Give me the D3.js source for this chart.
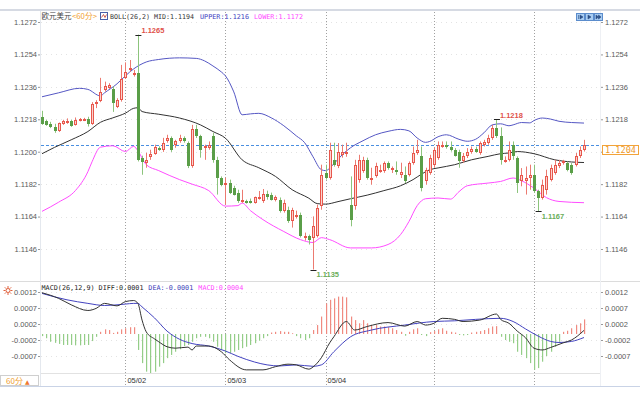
<!DOCTYPE html>
<html><head><meta charset="utf-8">
<script src="https://cdn.jsdelivr.net/npm/d3@7"></script>
<style>body{margin:0;background:#fff}svg{display:block}</style>
</head><body><svg id="c" width="640" height="400"></svg>
<script>
// ---------------- DATA ----------------
const opens = [1.12195,1.12168,1.12155,1.12138,1.12116,1.12155,1.12160,1.12168,1.12149,1.12172,1.12172,1.12183,1.12155,1.12267,1.12282,1.12343,1.12354,1.12349,1.12249,1.12288,1.12410,1.12454,1.12426,1.12437,1.11967,1.11939,1.11972,1.11989,1.12022,1.12007,1.12057,1.12077,1.12039,1.12057,1.12077,1.12050,1.11918,1.12127,1.12085,1.12022,1.12022,1.12085,1.11955,1.11856,1.11817,1.11828,1.11800,1.11773,1.11724,1.11724,1.11729,1.11718,1.11740,1.11724,1.11767,1.11762,1.11730,1.11734,1.11669,1.11678,1.11614,1.11640,1.11651,1.11522,1.11531,1.11522,1.11531,1.11697,1.11882,1.11854,1.11955,1.11918,1.11983,1.11989,1.11706,1.11697,1.11845,1.11891,1.11955,1.11845,1.11863,1.11891,1.11891,1.11939,1.11900,1.11900,1.11872,1.11872,1.11872,1.11939,1.11994,1.11974,1.11835,1.11882,1.11928,1.11965,1.12029,1.12039,1.12026,1.12007,1.11996,1.11946,1.11974,1.11996,1.12015,1.11993,1.12039,1.12048,1.12076,1.12131,1.12085,1.11946,1.11955,1.12039,1.11965,1.11835,1.11835,1.11854,1.11872,1.11780,1.11743,1.11789,1.11845,1.11882,1.11918,1.11937,1.11937,1.11928,1.11928,1.11974,1.12011];
const highs = [1.12227,1.12177,1.12166,1.12155,1.12162,1.12177,1.12185,1.12177,1.12190,1.12187,1.12188,1.12194,1.12275,1.12286,1.12410,1.12389,1.12380,1.12362,1.12297,1.12482,1.12496,1.12509,1.12454,1.12650,1.11978,1.11994,1.12011,1.12039,1.12030,1.12077,1.12094,1.12085,1.12066,1.12094,1.12085,1.12057,1.12149,1.12149,1.12094,1.12039,1.12057,1.12105,1.11972,1.11863,1.11856,1.11845,1.11811,1.11789,1.11789,1.11734,1.11740,1.11751,1.11782,1.11793,1.11784,1.11773,1.11757,1.11746,1.11734,1.11695,1.11689,1.11673,1.11662,1.11551,1.11540,1.11641,1.11706,1.11928,1.11928,1.12050,1.12050,1.12048,1.12039,1.12050,1.11863,1.11955,1.11983,1.11972,1.11967,1.11911,1.11939,1.11928,1.11946,1.11946,1.11918,1.11946,1.11939,1.11918,1.11946,1.12029,1.12066,1.12029,1.11911,1.11983,1.12022,1.12057,1.12057,1.12057,1.12057,1.12020,1.12011,1.11993,1.12020,1.12029,1.12028,1.12057,1.12066,1.12094,1.12149,1.12180,1.12135,1.11974,1.12057,1.12057,1.11974,1.11909,1.11918,1.11928,1.11928,1.11789,1.11845,1.11900,1.11928,1.11955,1.11955,1.11955,1.11946,1.11937,1.11993,1.12029,1.12066];
const lows = [1.12149,1.12144,1.12131,1.12105,1.12110,1.12149,1.12155,1.12138,1.12145,1.12168,1.12170,1.12140,1.12149,1.12242,1.12275,1.12334,1.12349,1.12221,1.12242,1.12278,1.12404,1.12444,1.12417,1.11946,1.11872,1.11911,1.11955,1.11983,1.12005,1.11999,1.12050,1.11999,1.12022,1.12050,1.12050,1.11909,1.11911,1.12076,1.11967,1.11955,1.12011,1.11939,1.11762,1.11808,1.11706,1.11765,1.11757,1.11716,1.11716,1.11712,1.11712,1.11712,1.11734,1.11716,1.11734,1.11729,1.11724,1.11662,1.11662,1.11605,1.11579,1.11629,1.11524,1.11507,1.11485,1.11346,1.11524,1.11678,1.11845,1.11845,1.11917,1.11909,1.11967,1.11972,1.11586,1.11678,1.11828,1.11883,1.11845,1.11817,1.11856,1.11883,1.11883,1.11900,1.11882,1.11872,1.11854,1.11826,1.11863,1.11928,1.11983,1.11780,1.11817,1.11872,1.11911,1.11955,1.12022,1.12017,1.12001,1.11973,1.11911,1.11939,1.11965,1.11989,1.11994,1.11983,1.12029,1.12039,1.12066,1.12076,1.11928,1.11939,1.11946,1.11955,1.11771,1.11808,1.11762,1.11789,1.11771,1.11670,1.11734,1.11762,1.11835,1.11872,1.11909,1.11928,1.11891,1.11872,1.11918,1.11965,1.12001];
const closes = [1.12155,1.12149,1.12138,1.12116,1.12157,1.12168,1.12172,1.12144,1.12177,1.12181,1.12183,1.12155,1.12266,1.12278,1.12334,1.12362,1.12371,1.12272,1.12288,1.12404,1.12444,1.12467,1.12437,1.11955,1.11944,1.11953,1.11989,1.12024,1.12011,1.12046,1.12077,1.12007,1.12057,1.12077,1.12057,1.11918,1.12127,1.12085,1.12011,1.12033,1.12039,1.11955,1.11856,1.11817,1.11828,1.11771,1.11762,1.11724,1.11730,1.11718,1.11718,1.11746,1.11751,1.11767,1.11746,1.11734,1.11746,1.11669,1.11718,1.11614,1.11678,1.11651,1.11531,1.11531,1.11512,1.11586,1.11688,1.11872,1.11854,1.12011,1.11928,1.12001,1.12001,1.12001,1.11623,1.11928,1.11955,1.11955,1.11854,1.11856,1.11918,1.11900,1.11939,1.11911,1.11911,1.11885,1.11885,1.11835,1.11939,1.11994,1.12011,1.11799,1.11900,1.11967,1.12011,1.12039,1.12039,1.12026,1.12011,1.11976,1.11946,1.11974,1.12001,1.12015,1.12001,1.12048,1.12053,1.12076,1.12131,1.12085,1.11955,1.11955,1.12011,1.11974,1.11826,1.11872,1.11854,1.11872,1.11780,1.11743,1.11817,1.11863,1.11909,1.11928,1.11937,1.11946,1.11900,1.11882,1.11974,1.12011,1.12040];

const upperIdx = [0,4,9,11,14,15,18,20,22,25,28,33,37,39,41,43,44,46,48,50,52,55,58,61,63,65,67,68,70,72,74,77,80,83,86,88,90,92,93,95,97,100,102,104,106,108,110,112,113,115,117,118,120,122,124,127,130];
const upperVals = [1.12305,1.12327,1.12352,1.12346,1.12310,1.12327,1.12377,1.12421,1.12460,1.12498,1.12512,1.12521,1.12518,1.12504,1.12476,1.12443,1.12421,1.12332,1.12205,1.12210,1.12213,1.12188,1.12144,1.12088,1.12050,1.11972,1.11900,1.11895,1.11933,1.11983,1.12022,1.12061,1.12094,1.12113,1.12124,1.12116,1.12076,1.12052,1.12057,1.12083,1.12094,1.12069,1.12058,1.12069,1.12105,1.12149,1.12155,1.12144,1.12149,1.12162,1.12160,1.12173,1.12187,1.12181,1.12169,1.12162,1.12159];
const midIdx = [0,3,7,11,14,17,20,22,23,24,28,33,38,41,44,48,52,56,60,64,66,68,71,74,78,82,86,89,91,93,95,99,103,107,110,112,114,118,123,127,130];
const midVals = [1.11989,1.12024,1.12066,1.12112,1.12163,1.12188,1.12214,1.12241,1.12244,1.12223,1.12208,1.12187,1.12149,1.12112,1.12075,1.11955,1.11911,1.11863,1.11789,1.11742,1.11712,1.11709,1.11723,1.11739,1.11759,1.11784,1.11811,1.11845,1.11875,1.11900,1.11910,1.11928,1.11955,1.11974,1.11989,1.11993,1.12001,1.11989,1.11955,1.11943,1.11940];
const lowerIdx = [0,4,8,11,12,14,17,20,22,23,25,28,33,36,40,44,47,48,50,53,58,62,65,67,69,74,79,83,86,88,90,92,95,98,100,102,107,110,113,115,118,121,124,130];
const lowerVals = [1.11669,1.11720,1.11784,1.11889,1.11944,1.12025,1.12033,1.12001,1.12030,1.12005,1.11928,1.11895,1.11845,1.11820,1.11784,1.11698,1.11701,1.11715,1.11673,1.11623,1.11557,1.11512,1.11496,1.11523,1.11512,1.11466,1.11466,1.11485,1.11540,1.11612,1.11701,1.11739,1.11743,1.11737,1.11778,1.11811,1.11826,1.11835,1.11854,1.11839,1.11798,1.11745,1.11724,1.11717];

const macdHist = [-0.00006,-0.00012,-0.00022,-0.00025,-0.00028,-0.00031,-0.00031,-0.00031,-0.00032,-0.00032,-0.00031,-0.00031,-0.00020,-0.00008,0.00006,0.00013,0.00011,0.00003,0.00006,0.00013,0.00016,0.00019,0.00019,-0.00045,-0.00082,-0.00106,-0.00111,-0.00106,-0.00092,-0.00082,-0.00068,-0.00059,-0.00050,-0.00043,-0.00034,-0.00031,-0.00022,-0.00012,-0.00008,-0.00008,-0.00012,-0.00022,-0.00036,-0.00045,-0.00054,-0.00054,-0.00050,-0.00045,-0.00040,-0.00036,-0.00031,-0.00026,-0.00019,-0.00012,-0.00006,0.00004,0.00006,0.00008,0.00006,0.00006,0.00002,-0.00006,-0.00012,-0.00017,-0.00012,0.00011,0.00025,0.00049,0.00086,0.00096,0.00100,0.00105,0.00105,0.00103,0.00049,0.00039,0.00030,0.00039,0.00030,0.00025,0.00025,0.00021,0.00021,0.00019,0.00016,0.00011,0.00006,-0.00005,0.00006,0.00013,0.00016,-0.00003,-0.00006,0.00005,0.00008,0.00013,0.00016,0.00009,0.00006,0.00004,-0.00003,-0.00004,-0.00003,0.00004,0.00006,0.00008,0.00011,0.00016,0.00021,0.00022,-0.00008,-0.00017,-0.00022,-0.00026,-0.00050,-0.00059,-0.00068,-0.00082,-0.00101,-0.00096,-0.00078,-0.00062,-0.00050,-0.00036,-0.00022,0.00006,0.00009,0.00016,0.00025,0.00030,0.00041];
const diffIdx = [0,4,7,11,13,15,18,20,22,23,24,25,27,28,30,32,35,36,37,40,43,45,49,53,56,59,61,64,65,66,67,69,70,73,75,78,83,87,90,92,94,96,99,101,105,109,110,112,114,116,118,120,122,125,127,130];
const diffVals = [0.00116,0.00100,0.00082,0.00066,0.00072,0.00086,0.00079,0.00091,0.00094,0.00086,0.00039,0.00006,-0.00014,-0.00022,-0.00036,-0.00040,-0.00037,-0.00045,-0.00034,-0.00034,-0.00050,-0.00073,-0.00101,-0.00101,-0.00092,-0.00085,-0.00087,-0.00099,-0.00093,-0.00082,-0.00067,-0.00025,-0.00008,0.00035,0.00011,0.00021,0.00032,0.00022,0.00035,0.00025,0.00030,0.00044,0.00041,0.00035,0.00039,0.00056,0.00041,0.00030,0.00008,-0.00011,-0.00040,-0.00045,-0.00038,-0.00025,-0.00017,0.00010];
const deaIdx = [0,6,11,15,20,22,23,24,27,30,33,36,40,44,47,51,54,57,61,65,67,70,74,79,87,94,99,104,110,113,116,119,122,124,127,130];
const deaVals = [0.00114,0.00096,0.00086,0.00080,0.00084,0.00086,0.00086,0.00076,0.00045,0.00008,-0.00015,-0.00027,-0.00034,-0.00048,-0.00063,-0.00079,-0.00087,-0.00090,-0.00087,-0.00091,-0.00087,-0.00050,-0.00008,0.00011,0.00025,0.00035,0.00037,0.00041,0.00044,0.00035,0.00014,-0.00006,-0.00021,-0.00024,-0.00021,-0.00010];

const priceTicks = [1.1272,1.1254,1.1236,1.1218,1.1200,1.1182,1.1164,1.1146];
const macdTickVals = [0.00118,0.00073,0.00028,-0.00017,-0.00062];
const macdTickLabels = ["0.0012","0.0007","0.0002","-0.0002","-0.0007"];
const dayIdx = [20,44,68,94,118];
const dayLabels = ["05/02","05/03","05/04","",""];
const lastPrice = 1.1204;
const markIdx = [23,109,119,65];
const markText = ["1.1265","1.1218","1.1167","1.1135"];
const markIsHigh = [true,true,false,false];

// ---------------- SCALES ----------------
const svg = d3.select("#c");
const x = d3.scaleLinear().domain([0,130]).range([42,584]);
const y = d3.scaleLinear().domain([1.1146,1.1272]).range([249,22]);
const ym = d3.scaleLinear().domain([-0.00062,0.00118]).range([356,292]);
const RED="#e8574c", PINK="#fbd3ce", GREEN="#5a9e48", LGREEN="#8cc47c";

// frame
svg.append("rect").attr("x",0).attr("y",9).attr("width",640).attr("height",2).attr("fill","#d6dae3");
svg.append("line").attr("x1",0).attr("x2",640).attr("y1",281.5).attr("y2",281.5).attr("stroke","#dcdcdc");
svg.append("line").attr("x1",40).attr("x2",600).attr("y1",373.5).attr("y2",373.5).attr("stroke","#e2e2e2");
svg.append("line").attr("x1",0).attr("x2",640).attr("y1",386.5).attr("y2",386.5).attr("stroke","#c9d3e6");
svg.append("line").attr("x1",40.5).attr("x2",40.5).attr("y1",11).attr("y2",386).attr("stroke","#e4e8ee");
svg.append("line").attr("x1",600.5).attr("x2",600.5).attr("y1",11).attr("y2",386).attr("stroke","#eef0f4");

// faint grid
svg.append("g").selectAll("line").data(priceTicks).join("line")
  .attr("x1",41).attr("x2",600).attr("y1",d=>Math.round(y(d))+0.5).attr("y2",d=>Math.round(y(d))+0.5)
  .attr("stroke","#e3e3e3").attr("stroke-dasharray","1,4");
svg.append("g").selectAll("line").data(macdTickVals).join("line")
  .attr("x1",41).attr("x2",600).attr("y1",d=>Math.round(ym(d))+0.5).attr("y2",d=>Math.round(ym(d))+0.5)
  .attr("stroke","#e3e3e3").attr("stroke-dasharray","1,4");

// day separators
svg.append("g").selectAll("line").data(dayIdx).join("line")
  .attr("x1",d=>Math.round(x(d))+0.5).attr("x2",d=>Math.round(x(d))+0.5)
  .attr("y1",12).attr("y2",386).attr("stroke","#a0a0a0").attr("stroke-dasharray","1,2");
svg.append("g").selectAll("text").data(dayIdx).join("text")
  .attr("x",d=>x(d)+2).attr("y",383).text((d,i)=>dayLabels[i])
  .attr("font-family","Liberation Sans, Arial, sans-serif").attr("font-size",7.5).attr("fill","#333");

// clips
const defs = svg.append("defs");
defs.append("clipPath").attr("id","mainClip").append("rect").attr("x",41).attr("y",12).attr("width",559).attr("height",268);
defs.append("clipPath").attr("id","macdClip").append("rect").attr("x",41).attr("y",290).attr("width",559).attr("height",83);

const main = svg.append("g").attr("clip-path","url(#mainClip)");

// current price line
main.append("line").attr("x1",41).attr("x2",600).attr("y1",Math.round(y(lastPrice))+0.5).attr("y2",Math.round(y(lastPrice))+0.5)
  .attr("stroke","#4a8fe0").attr("stroke-dasharray","3,2");

// bands
const band = (idx, vals, col) => {
  const pts = idx.map((d,i)=>[x(d), y(vals[i])]);
  main.append("path").attr("d", d3.line().curve(d3.curveMonotoneX)(pts))
    .attr("fill","none").attr("stroke",col).attr("stroke-width",1);
};
band(upperIdx, upperVals, "#5557c4");
band(midIdx, midVals, "#333333");
band(lowerIdx, lowerVals, "#ff4cff");

// candles
const idxs = d3.range(opens.length);
const cg = main.append("g");
idxs.forEach(i => {
  const cx = Math.round(x(i));
  const up = closes[i] >= opens[i];
  const yH = y(highs[i]), yL = y(lows[i]);
  const yT = Math.round(y(Math.max(opens[i],closes[i]))), yB = Math.round(y(Math.min(opens[i],closes[i])));
  cg.append("line").attr("x1",cx+0.5).attr("x2",cx+0.5).attr("y1",yH).attr("y2",yL)
    .attr("stroke", up ? "#ec7a70" : LGREEN).attr("stroke-width",1);
  if (up) {
    cg.append("rect").attr("x",cx-0.5).attr("y",yT+0.5).attr("width",2).attr("height",Math.max(0.01,yB-yT-1+ (yB-yT<2?1:0)))
      .attr("fill",PINK).attr("stroke",RED).attr("stroke-width",1);
  } else {
    cg.append("rect").attr("x",cx-1).attr("y",yT).attr("width",3).attr("height",Math.max(1,yB-yT))
      .attr("fill",GREEN);
  }
});

// high/low marks
markIdx.forEach((m,k) => {
  const cx = x(m);
  const yy = markIsHigh[k] ? y(highs[m]) : y(lows[m]);
  main.append("line").attr("x1",cx-2.5).attr("x2",cx+3.5).attr("y1",Math.round(yy)+0.5).attr("y2",Math.round(yy)+0.5).attr("stroke","#222");
  main.append("text").attr("x",cx+3.5).attr("y", markIsHigh[k] ? yy-1.3 : yy+7.5)
    .text(markText[k]).attr("font-family","Liberation Sans, Arial, sans-serif").attr("font-size",7.5)
    .attr("font-weight","bold").attr("fill", markIsHigh[k] ? "#e0524a" : "#6aae5a");
});

// ---------------- MACD ----------------
const mg = svg.append("g").attr("clip-path","url(#macdClip)");
const y0 = Math.round(ym(0));
mg.append("g").selectAll("rect").data(macdHist).join("rect")
  .attr("x",(d,i)=>Math.round(x(i)))
  .attr("width",1.2)
  .attr("y",d=> d>=0 ? ym(d) : y0)
  .attr("height",d=> Math.max(0.8, Math.abs(ym(d)-y0)))
  .attr("fill",d=> d>=0 ? "#f08a80" : "#94cd88");
const mline = (idx, vals, col) => {
  const pts = idx.map((d,i)=>[x(d), ym(vals[i])]);
  mg.append("path").attr("d", d3.line().curve(d3.curveMonotoneX)(pts))
    .attr("fill","none").attr("stroke",col).attr("stroke-width",1);
};
mline(deaIdx, deaVals, "#4343c0");
mline(diffIdx, diffVals, "#333333");

// ---------------- AXES ----------------
const styleAxis = g => {
  g.select(".domain").remove();
  g.selectAll(".tick line").attr("stroke","#999");
  g.selectAll("text").attr("font-family","Liberation Sans, Arial, sans-serif").attr("font-size",7.5).attr("fill","#5a5a5a");
};
svg.append("g").attr("transform","translate(40,0)")
  .call(d3.axisLeft(y).tickValues(priceTicks).tickFormat(d3.format(".4f")).tickSize(2).tickPadding(1)).call(styleAxis);
svg.append("g").attr("transform","translate(601,0)")
  .call(d3.axisRight(y).tickValues(priceTicks).tickFormat(d3.format(".4f")).tickSize(2).tickPadding(2)).call(styleAxis);
svg.append("g").attr("transform","translate(40,0)")
  .call(d3.axisLeft(ym).tickValues(macdTickVals).tickFormat((d,i)=>macdTickLabels[i]).tickSize(2).tickPadding(1)).call(styleAxis);
svg.append("g").attr("transform","translate(601,0)")
  .call(d3.axisRight(ym).tickValues(macdTickVals).tickFormat((d,i)=>macdTickLabels[i]).tickSize(2).tickPadding(2)).call(styleAxis);

// current price tag
const ly = Math.round(y(lastPrice));
svg.append("rect").attr("x",602.5).attr("y",ly+0.5).attr("width",36).attr("height",9).attr("fill","#fff").attr("stroke","#f2a33a");
svg.append("text").attr("x",605).attr("y",ly+8).text(d3.format(".4f")(lastPrice))
  .attr("font-family","DejaVu Sans Mono, monospace").attr("font-size",8).attr("fill","#ef9a2a")
  .attr("textLength",31).attr("lengthAdjust","spacingAndGlyphs");

// ---------------- HEADERS ----------------
const T = (xx, yy, s, col, len, fam, fs) => svg.append("text").attr("x",xx).attr("y",yy).text(s)
  .attr("font-family", fam || "DejaVu Sans Mono, monospace").attr("font-size",fs || 6.7).attr("fill",col)
  .attr("textLength",len).attr("lengthAdjust","spacingAndGlyphs");
T(41.5,19.3,"欧元美元","#444",30,"Noto Sans CJK SC",7.5);
T(72,19.3,"<60分>","#f0a030",25,"Noto Sans CJK SC",7.5);
svg.append("rect").attr("x",100.5).attr("y",12.5).attr("width",7).attr("height",7).attr("fill","#fff").attr("stroke","#4a5fa8");
svg.append("path").attr("d","M101.5,17.5 L103.5,14.5 L105,17.5 L106.5,14.5").attr("fill","none").attr("stroke","#c0392b").attr("stroke-width",0.8);
T(110,19.3,"BOLL(26,2)","#333",40);
T(154,19.3,"MID:1.1194","#333",40);
T(200,19.3,"UPPER:1.1216","#3c3cc0",49);
T(254,19.3,"LOWER:1.1172","#ff44ff",49);

T(41.5,289.5,"MACD(26,12,9) DIFF:0.0001","#222",102);
T(148.3,289.5,"DEA:-0.0001","#3a3ab8",45);
T(198.3,289.5,"MACD:0.0004","#ff44ff",45);

// macd settings icon
const ic = svg.append("g").attr("transform","translate(8,290.5)");
d3.range(8).forEach(k=>{const a=k*Math.PI/4; ic.append("line").attr("x1",Math.cos(a)*2.5).attr("y1",Math.sin(a)*2.5).attr("x2",Math.cos(a)*4.5).attr("y2",Math.sin(a)*4.5).attr("stroke","#e0603c").attr("stroke-width",1);});
ic.append("circle").attr("r",2).attr("fill","#fff").attr("stroke","#e0603c");

// top-right buttons
[576,585,594].forEach((bx,k)=>{
  svg.append("rect").attr("x",bx+0.5).attr("y",13.5).attr("width",8).attr("height",7).attr("fill","#a9cdf2").attr("stroke","#5b8ccc");
  const p = k===0 ? `M${bx+2.5},15 v4 M${bx+4},15 l3,2 l-3,2z` : k===1 ? `M${bx+3},15 l3,2 l-3,2z` : `M${bx+2},15 l2.5,2 l-2.5,2z M${bx+4.5},15 l2.5,2 l-2.5,2z`;
  svg.append("path").attr("d",p).attr("fill","#2c4f86").attr("stroke","#2c4f86").attr("stroke-width",0.6);
});

// period tab
svg.append("rect").attr("x",0.5).attr("y",375.5).attr("width",38).attr("height",10).attr("fill","#fff").attr("stroke","#cfcfcf");
svg.append("text").attr("x",6).attr("y",384).text("60分").attr("font-family","Noto Sans CJK SC").attr("font-size",8).attr("fill","#f0a030");
svg.append("text").attr("x",25).attr("y",383.5).text("▲").attr("font-family","DejaVu Sans").attr("font-size",6).attr("fill","#f07830");
</script>
</body></html>
